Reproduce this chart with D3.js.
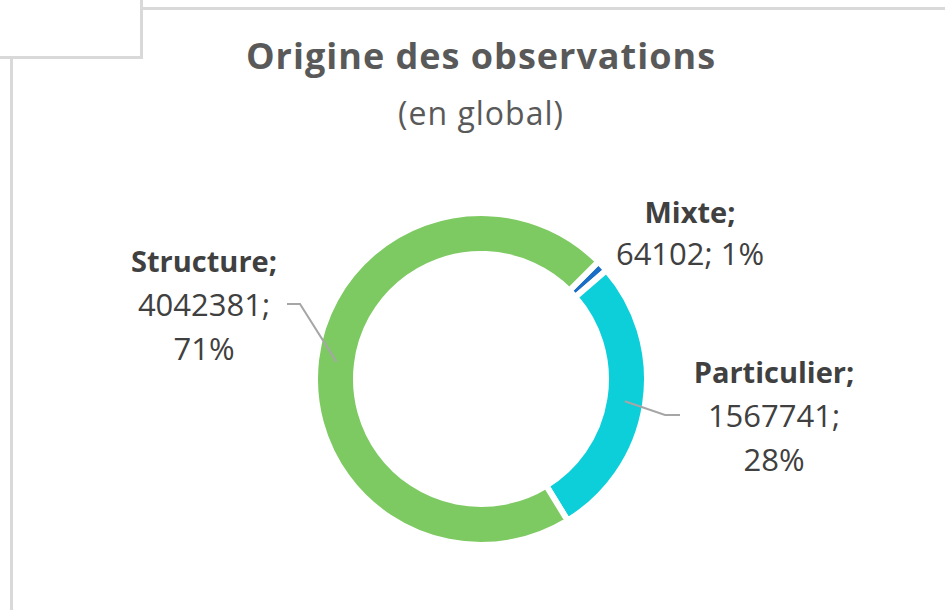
<!DOCTYPE html>
<html>
<head>
<meta charset="utf-8">
<script src="https://cdn.jsdelivr.net/npm/d3@7"></script>
<style>
  body { margin: 0; background: #fff; }
  text { font-family: "Open Sans", "Noto Sans", sans-serif; }
</style>
</head>
<body>
<div id="chart"></div>
<script>
// data
var names = ["Mixte", "Particulier", "Structure"];
var values = [64102, 1567741, 4042381];
var colors = ["#1b6ec6", "#0ccfd9", "#7dca62"];
var title = "Origine des observations";
var subtitle = "(en global)";

var W = 945, H = 610;
var cx = 481, cy = 379;
var rOuter = 166, rInner = 125;

var svg = d3.select("#chart").append("svg")
  .attr("width", W).attr("height", H);

// cell borders behind the chart
svg.append("path")
  .attr("d", "M0,57.5 H141.5 V0 M141.5,8.5 H945 M11.5,57.5 V610")
  .attr("fill", "none").attr("stroke", "#d9d9d9").attr("stroke-width", 3);

svg.append("text")
  .attr("x", cx).attr("y", 69)
  .attr("text-anchor", "middle")
  .attr("font-size", 36).attr("font-weight", "bold")
  .attr("letter-spacing", 1)
  .attr("fill", "#595959")
  .text(title);

svg.append("text")
  .attr("x", cx).attr("y", 125)
  .attr("text-anchor", "middle")
  .attr("font-size", 32)
  .attr("letter-spacing", 1)
  .attr("fill", "#595959")
  .text(subtitle);

var total = d3.sum(values);
var pct = d3.format(".0%");
var data = names.map(function (n, i) {
  return { name: n, value: values[i], color: colors[i] };
});

var pie = d3.pie().sort(null).value(function (d) { return d.value; })
  .startAngle(Math.PI / 4).endAngle(Math.PI / 4 + 2 * Math.PI);
var arcs = pie(data);

var arc = d3.arc().innerRadius(rInner).outerRadius(rOuter);
var mid = d3.arc().innerRadius((rInner + rOuter) / 2).outerRadius((rInner + rOuter) / 2);

var g = svg.append("g").attr("transform", "translate(" + cx + "," + cy + ")");

g.selectAll("path.slice").data(arcs).enter().append("path")
  .attr("class", "slice")
  .attr("d", arc)
  .attr("fill", function (d) { return d.data.color; })
  .attr("stroke", "#fff").attr("stroke-width", 6);

// where each label sits (relative to the donut centre)
var labelAt = {
  "Mixte":       { dx: 209, dy: -156, wrap: false, lead: null },
  "Particulier": { dx: 293, dy: 4,    wrap: true,  lead: { elbow: 184, end: 199, y: 36 } },
  "Structure":   { dx: -277, dy: -107, wrap: true, lead: { elbow: -181, end: -194, y: -75 } }
};

arcs.forEach(function (a) {
  var d = a.data, p = labelAt[d.name];
  var lines = p.wrap
    ? [d.name + ";", d.value + ";", pct(d.value / total)]
    : [d.name + ";", d.value + "; " + pct(d.value / total)];
  var lineH = p.wrap ? 44 : 42;
  var t = g.append("text")
    .attr("text-anchor", "middle")
    .attr("fill", "#404040");
  lines.forEach(function (l, i) {
    t.append("tspan")
      .attr("x", p.dx).attr("y", p.dy + i * lineH)
      .attr("font-weight", i === 0 ? "bold" : "normal")
      .attr("font-size", i === 0 ? 29 : 31)
      .text(l);
  });
  if (p.lead) {
    var c = mid.centroid(a);
    g.append("polyline")
      .attr("points", [c, [p.lead.elbow, p.lead.y], [p.lead.end, p.lead.y]].join(" "))
      .attr("fill", "none").attr("stroke", "#a6a6a6").attr("stroke-width", 2);
  }
});
</script>
</body>
</html>
